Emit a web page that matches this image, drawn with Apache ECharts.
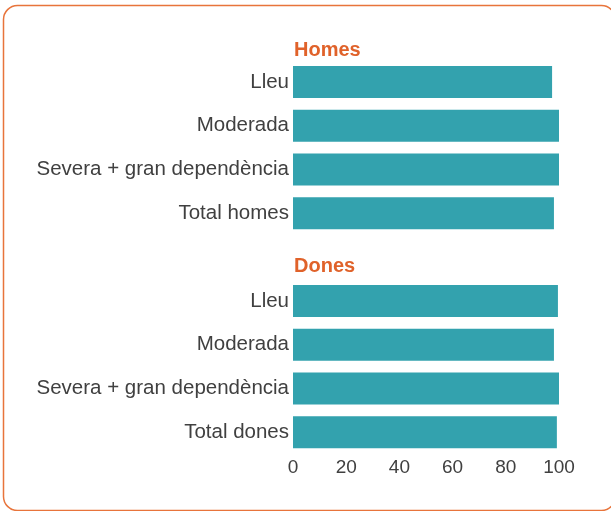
<!DOCTYPE html>
<html>
<head>
<meta charset="utf-8">
<script src="https://cdn.jsdelivr.net/npm/echarts@6/dist/echarts.min.js"></script>
<style>
  html, body { margin: 0; padding: 0; background: #fff; }
  #chart { width: 611px; height: 511px; }
</style>
</head>
<body>
<div id="chart"></div>
<script>
// dades
var homesCats = ['Lleu', 'Moderada', 'Severa + gran dependència', 'Total homes'];
var homesValues = [97.4, 100, 100, 98.1];
var donesCats = ['Lleu', 'Moderada', 'Severa + gran dependència', 'Total dones'];
var donesValues = [99.6, 98.1, 100, 99.2];
var xTicks = [0, 20, 40, 60, 80, 100];

var BAR = '#33a2ae';
var ORANGE = '#e0622a';
var TXT = '#404040';
var FONT = 'Liberation Sans, Arial, sans-serif';

var chart = echarts.init(document.getElementById('chart'));

function yAxisFor(idx, cats) {
  return {
    type: 'category',
    gridIndex: idx,
    data: cats,
    inverse: true,
    axisLine: { show: false },
    axisTick: { show: false },
    axisLabel: { color: TXT, fontSize: 20.5, fontFamily: FONT, margin: 4 }
  };
}

function xAxisFor(idx, show) {
  return {
    type: 'value',
    gridIndex: idx,
    min: xTicks[0],
    max: xTicks[xTicks.length - 1],
    interval: 20,
    splitLine: { show: false },
    axisLine: { show: false },
    axisTick: { show: false },
    axisLabel: { show: show, color: TXT, fontSize: 19, fontFamily: FONT, margin: 4 }
  };
}

var option = {
  animation: false,
  graphic: [{
    type: 'rect',
    shape: { x: 3.5, y: 5.5, width: 612, height: 505, r: 14 },
    style: { fill: 'none', stroke: '#e8743b', lineWidth: 1.5 }
  }],
  title: [
    { text: 'Homes', left: 289, top: 35, textStyle: { color: ORANGE, fontSize: 20, fontWeight: 'bold', fontFamily: FONT } },
    { text: 'Dones', left: 289, top: 251, textStyle: { color: ORANGE, fontSize: 20, fontWeight: 'bold', fontFamily: FONT } }
  ],
  grid: [
    { left: 293, right: 52, top: 60, height: 175 },
    { left: 293, right: 52, top: 279, height: 175 }
  ],
  xAxis: [xAxisFor(0, false), xAxisFor(1, true)],
  yAxis: [yAxisFor(0, homesCats), yAxisFor(1, donesCats)],
  series: [
    { type: 'bar', xAxisIndex: 0, yAxisIndex: 0, data: homesValues, barWidth: 32, itemStyle: { color: BAR } },
    { type: 'bar', xAxisIndex: 1, yAxisIndex: 1, data: donesValues, barWidth: 32, itemStyle: { color: BAR } }
  ]
};

chart.setOption(option);
</script>
</body>
</html>
